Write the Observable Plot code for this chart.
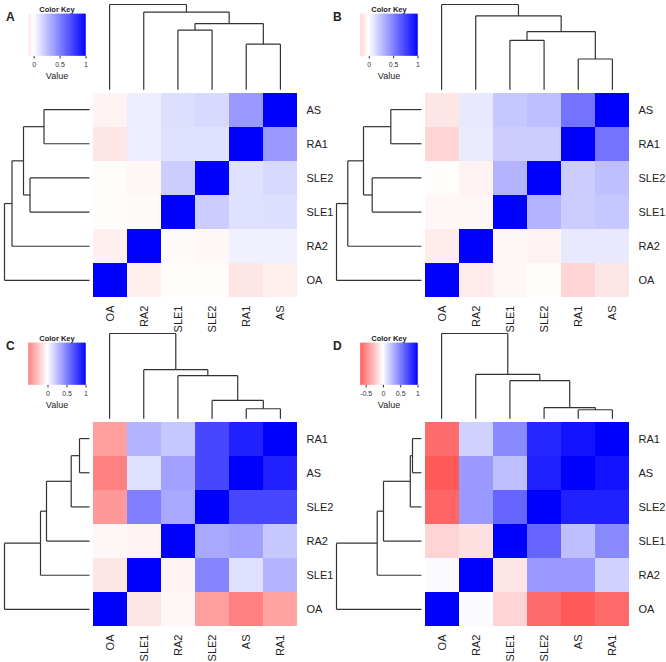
<!DOCTYPE html>
<html><head><meta charset="utf-8">
<script src="https://cdn.jsdelivr.net/npm/d3@7"></script>
<script src="https://cdn.jsdelivr.net/npm/@observablehq/plot@0.6"></script>
<style>
body{margin:0;background:#fff;}
#root{position:relative;width:666px;height:662px;overflow:hidden;font-family:"Liberation Sans",Arial,Helvetica,sans-serif;color:#222;}
.panel{position:absolute;width:334px;height:331px;}
.txt{position:absolute;white-space:nowrap;line-height:1;}
</style></head><body><div id="root"></div><script>
// ---------- data ----------
const panelLabels = ["A", "B", "C", "D"];
// leaf order: left-to-right for columns, bottom-to-top for rows
const orderA = ["OA", "RA2", "SLE1", "SLE2", "RA1", "AS"];
const orderB = ["OA", "RA2", "SLE1", "SLE2", "RA1", "AS"];
const orderC = ["OA", "SLE1", "RA2", "SLE2", "AS", "RA1"];
const orderD = ["OA", "RA2", "SLE1", "SLE2", "AS", "RA1"];
// correlation matrices, rows and columns in the panel's leaf order
const matrixA = [
  [1.00, -0.06, -0.01, -0.01, -0.10, -0.06],
  [-0.06, 1.00, -0.02, -0.03, 0.06, 0.06],
  [-0.01, -0.02, 1.00, 0.20, 0.12, 0.13],
  [-0.01, -0.03, 0.20, 1.00, 0.12, 0.15],
  [-0.10, 0.07, 0.12, 0.12, 1.00, 0.40],
  [-0.05, 0.07, 0.13, 0.15, 0.40, 1.00]
];
const matrixB = [
  [1.00, -0.08, -0.03, -0.01, -0.17, -0.10],
  [-0.08, 1.00, -0.03, -0.05, 0.09, 0.09],
  [-0.03, -0.03, 1.00, 0.30, 0.20, 0.22],
  [-0.01, -0.05, 0.30, 1.00, 0.20, 0.25],
  [-0.17, 0.08, 0.20, 0.20, 1.00, 0.55],
  [-0.10, 0.09, 0.22, 0.25, 0.55, 1.00]
];
const matrixC = [
  [1.00, -0.10, -0.03, -0.38, -0.50, -0.36],
  [-0.10, 1.00, -0.05, 0.48, 0.12, 0.30],
  [-0.03, -0.05, 1.00, 0.34, 0.37, 0.22],
  [-0.40, 0.50, 0.34, 1.00, 0.72, 0.72],
  [-0.50, 0.12, 0.37, 0.72, 1.00, 0.87],
  [-0.38, 0.30, 0.22, 0.72, 0.87, 1.00]
];
const matrixD = [
  [1.00, 0.02, -0.17, -0.58, -0.65, -0.58],
  [0.02, 1.00, -0.10, 0.40, 0.40, 0.18],
  [-0.17, -0.12, 1.00, 0.60, 0.25, 0.46],
  [-0.60, 0.40, 0.60, 1.00, 0.87, 0.87],
  [-0.65, 0.40, 0.25, 0.87, 1.00, 0.93],
  [-0.58, 0.18, 0.46, 0.85, 0.93, 1.00]
];
// dendrogram merges: [member, member, height]; a number refers to an earlier merge
const mergesA = [["RA1", "AS", 45.5], ["SLE1", "SLE2", 59.5], [0, 1, 66], ["RA2", 2, 77.5], ["OA", 3, 85]];
const mergesB = [["RA1", "AS", 30.7], ["SLE1", "SLE2", 49.3], [0, 1, 58], ["RA2", 2, 73.7], ["OA", 3, 85]];
const mergesC = [["AS", "RA1", 10], ["SLE2", 0, 18.3], ["RA2", 1, 43], ["SLE1", 2, 49], ["OA", 3, 85]];
const mergesD = [["AS", "RA1", 9], ["SLE2", 0, 11.2], ["SLE1", 1, 38], ["RA2", 2, 44.3], ["OA", 3, 85]];
const keyTicksA = [0, 0.5, 1];
const keyTicksB = [0, 0.5, 1];
const keyTicksC = [0, 0.5, 1];
const keyTicksD = [-0.5, 0, 0.5, 1];
const keyTitle = "Color Key";
const keyLabel = "Value";

// ---------- drawing ----------
const FONT = '"Liberation Sans", Arial, Helvetica, sans-serif';
const colorOpts = {type: "linear", domain: [-1, 0, 1], range: ["#ff0000", "#ffffff", "#0000ff"], interpolate: "rgb"};
const root = document.getElementById("root");

function place(el, left, top) {
  el.style.position = "absolute"; el.style.left = left + "px"; el.style.top = top + "px";
  return el;
}
function text(parent, str, cx, cy, size, weight, anchor) {
  const d = document.createElement("div");
  d.className = "txt"; d.textContent = str;
  d.style.fontSize = size + "px"; d.style.fontWeight = weight || "normal";
  parent.appendChild(d);
  const w = d.getBoundingClientRect().width;
  d.style.left = (anchor === "start" ? cx : cx - w / 2) + "px";
  d.style.top = (cy - size * 0.5) + "px";
  return d;
}
function dendroSegments(order, merges) {
  const nodes = [], segs = [];
  const get = m => typeof m === "number" ? nodes[m] : {pos: order.indexOf(m), h: 0};
  for (const [a, b, h] of merges) {
    const A = get(a), B = get(b);
    segs.push({p1: A.pos, h1: A.h, p2: A.pos, h2: h});
    segs.push({p1: B.pos, h1: B.h, p2: B.pos, h2: h});
    segs.push({p1: A.pos, h1: h, p2: B.pos, h2: h});
    nodes.push({pos: (A.pos + B.pos) / 2, h});
  }
  return segs;
}

const panels = [
  {label: panelLabels[0], order: orderA, matrix: matrixA, merges: mergesA, ticks: keyTicksA, left: 0, top: 0, hmTop: 92, labelX: 6},
  {label: panelLabels[1], order: orderB, matrix: matrixB, merges: mergesB, ticks: keyTicksB, left: 332, top: 0, hmTop: 92, labelX: 1},
  {label: panelLabels[2], order: orderC, matrix: matrixC, merges: mergesC, ticks: keyTicksC, left: 0, top: 331, hmTop: 90, labelX: 6},
  {label: panelLabels[3], order: orderD, matrix: matrixD, merges: mergesD, ticks: keyTicksD, left: 332, top: 331, hmTop: 90, labelX: 1}
];

const HM_LEFT = 92, HM_SIZE = 205, PW = 334, PH = 331;

for (const p of panels) {
  const div = document.createElement("div");
  div.className = "panel";
  place(div, p.left, p.top);
  root.appendChild(div);
  const n = p.order.length;
  const hmBottom = p.hmTop + HM_SIZE;
  const maxH = d3.max(p.merges, m => m[2]);

  // heatmap
  const cells = [];
  p.order.forEach((r, i) => p.order.forEach((c, j) => cells.push({row: r, col: c, value: p.matrix[i][j]})));
  const hm = Plot.plot({
    width: PW, height: PH,
    marginLeft: HM_LEFT, marginRight: PW - HM_LEFT - HM_SIZE, marginTop: p.hmTop, marginBottom: PH - hmBottom,
    x: {domain: p.order, padding: 0, axis: "bottom", tickSize: 0, tickRotate: -90, tickPadding: 8, label: null},
    y: {domain: p.order.slice().reverse(), padding: 0, axis: "right", tickSize: 0, tickPadding: 9, label: null},
    color: colorOpts,
    style: {fontFamily: FONT, fontSize: "11px", color: "#222", background: "transparent", overflow: "visible"},
    marks: [Plot.cell(cells, {x: "col", y: "row", fill: "value", inset: 0, shapeRendering: "crispEdges"})]
  });
  div.appendChild(place(hm, 0, 0));

  const segs = dendroSegments(p.order, p.merges);
  // top dendrogram
  const topD = Plot.plot({
    width: PW, height: p.hmTop,
    marginLeft: HM_LEFT, marginRight: PW - HM_LEFT - HM_SIZE, marginTop: p.hmTop - 88, marginBottom: 2.7,
    x: {domain: [-0.5, n - 0.5], axis: null},
    y: {domain: [0, maxH], axis: null},
    style: {background: "transparent", overflow: "visible"},
    marks: [Plot.link(segs, {x1: "p1", y1: "h1", x2: "p2", y2: "h2", stroke: "#333", strokeWidth: 1.2})]
  });
  div.appendChild(place(topD, 0, 0));

  // left dendrogram
  const leftD = Plot.plot({
    width: HM_LEFT, height: PH,
    marginLeft: 4, marginRight: 3, marginTop: p.hmTop, marginBottom: PH - hmBottom,
    x: {domain: [maxH, 0], axis: null},
    y: {domain: [-0.5, n - 0.5], axis: null},
    style: {background: "transparent", overflow: "visible"},
    marks: [Plot.link(segs, {x1: "h1", y1: "p1", x2: "h2", y2: "p2", stroke: "#333", strokeWidth: 1.2})]
  });
  div.appendChild(place(leftD, 0, 0));

  // color key
  const kmin = d3.min(p.matrix.flat()), kmax = d3.max(p.matrix.flat());
  const steps = d3.range(80).map(i => {
    const a = kmin + (kmax - kmin) * i / 80, b = kmin + (kmax - kmin) * (i + 1) / 80;
    return {x1: a, x2: b, v: (a + b) / 2};
  });
  const keyTop = p.hmTop - 78, keyBottom = p.hmTop - 36.5;
  const KW = 100, KH = keyBottom + 16;
  const key = Plot.plot({
    width: KW, height: KH,
    marginLeft: 28.5, marginRight: KW - 85.5, marginTop: keyTop, marginBottom: KH - keyBottom,
    x: {domain: [kmin, kmax], ticks: p.ticks, tickFormat: d => String(d), tickSize: 3, tickPadding: 3, label: null},
    y: {domain: [0, 1], axis: null},
    color: colorOpts,
    style: {fontFamily: FONT, fontSize: "7px", color: "#333", background: "transparent", overflow: "visible"},
    marks: [Plot.rect(steps, {x1: "x1", x2: "x2", y1: 0, y2: 1, fill: "v", inset: 0, stroke: "v", strokeWidth: 0.5})]
  });
  div.appendChild(place(key, 0, 0));
  text(div, keyTitle, 57, p.hmTop - 82.5, 7.5, "bold");
  text(div, keyLabel, 57, p.hmTop - 15.5, 9, "normal");
  text(div, p.label, p.labelX, p.hmTop - 75, 12, "bold", "start");
}
</script></body></html>
